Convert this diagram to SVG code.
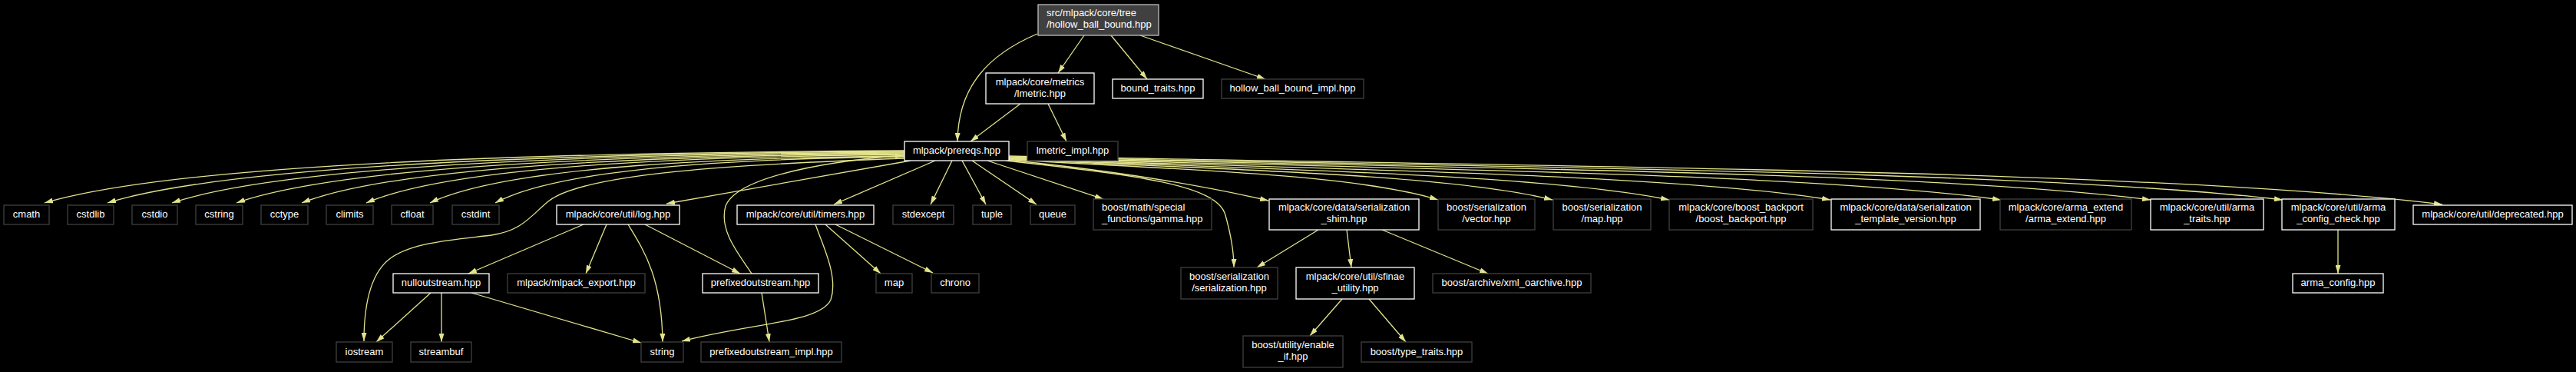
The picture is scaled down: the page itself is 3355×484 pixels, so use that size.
<svg xmlns="http://www.w3.org/2000/svg" width="3355" height="484" viewBox="0 0 3355 484">
<style>
text{font-family:"Liberation Sans",Arial,sans-serif;font-size:13px;fill:#ffffff;text-anchor:middle}
.l{text-anchor:start}
.d rect{fill:#000;stroke:#ffffff;stroke-width:1.3}
.u rect{fill:#000;stroke:#404040;stroke-width:1.3}
.r rect{fill:#404040;stroke:#bfbfbf;stroke-width:1.3}
#edges path{fill:none;stroke:#e3e38c;stroke-width:1.3;marker-end:url(#a)}
</style>
<defs>
<marker id="a" viewBox="0 0 11 7" refX="11" refY="3.5" markerWidth="11" markerHeight="7" markerUnits="userSpaceOnUse" orient="auto">
<path d="M0,0 L11,3.5 L0,7 z" fill="#e3e38c"/>
</marker>
</defs>
<rect x="0" y="0" width="3355" height="484" fill="#000"/>
<g id="edges">
<path d="M1351,44 C1290,70 1248,110 1247,184"/>
<path d="M1412,46 L1378,95"/>
<path d="M1447,46 L1494,103"/>
<path d="M1485,46 L1648,103"/>
<path d="M1329,135 L1264,184"/>
<path d="M1365,135 L1389,184"/>
<path d="M1178,196 C797,198 248,208 58,264"/>
<path d="M1178,197 C825,199 316,209 140,264"/>
<path d="M1178,198 C854,200 386,210 224,264"/>
<path d="M1178,199 C882,201 456,211 308,264"/>
<path d="M1178,200 C911,202 526,212 393,264"/>
<path d="M1178,201.5 C940,203 596,213 477,264"/>
<path d="M1178,203 C968,205 665,214 560,264"/>
<path d="M1178,204 C997,206 736,215 645,264"/>
<path d="M1186,209 L868,265"/>
<path d="M1218,209 L1086,266"/>
<path d="M1240,209 L1212,266"/>
<path d="M1253,209 L1284,266"/>
<path d="M1266,209 L1350,266"/>
<path d="M1286,209 L1437,259"/>
<path d="M1312,208 C1450,222 1560,240 1652,261"/>
<path d="M1310,209 C1480,228 1585,240 1596,280 C1603,305 1607,325 1607,348"/>
<path d="M1314,207.5 C1510,220 1761,225 1873,260"/>
<path d="M1314,207 C1562,220 1880,225 2022,260"/>
<path d="M1314,206.5 C1615,220 2002,225 2174,260"/>
<path d="M1314,206 C1688,220 2170,225 2384,260"/>
<path d="M1314,205.5 C1766,219 2348,224 2606,260"/>
<path d="M1314,205 C1834,218 2504,222 2801,260"/>
<path d="M1314,204 C1895,217 2641,221 2973,260"/>
<path d="M1314,203 C1967,216 2808,220 3181,266"/>
<path d="M1178,206 C960,214 760,225 714,262 C690,282 680,300 640,306 C590,312 540,315 510,335 C485,352 474,390 474,444"/>
<path d="M979,356 C962,330 936,300 945,268 C958,235 1050,212 1177,202"/>
<path d="M760,292 L610,356"/>
<path d="M790,292 L763,356"/>
<path d="M818,292 C838,325 862,360 863,445"/>
<path d="M840,292 L964,356"/>
<path d="M1062,292 C1072,320 1092,360 1082,390 C1068,420 980,420 888,444"/>
<path d="M1075,292 L1147,356"/>
<path d="M1088,292 L1215,355"/>
<path d="M561,381 L490,445"/>
<path d="M575,381 L575,445"/>
<path d="M614,381 L835,446"/>
<path d="M992,381 L1002,445"/>
<path d="M1717,299 L1637,348"/>
<path d="M1754,299 L1760,348"/>
<path d="M1800,299 L1938,356"/>
<path d="M1748,389 L1706,437"/>
<path d="M1783,389 L1831,445"/>
<path d="M3045,299 L3045,356"/>
</g>
<g id="n_root" class="r"><rect x="1352" y="6" width="157" height="40"/><text class="l" x="1363" y="21">src/mlpack/core/tree</text><text class="l" x="1363" y="36">/hollow_ball_bound.hpp</text></g>
<g id="n_lmetric" class="d"><rect x="1284" y="95" width="141" height="40"/><text x="1354.5" y="111">mlpack/core/metrics</text><text x="1354.5" y="126">/lmetric.hpp</text></g>
<g id="n_bound_traits" class="d"><rect x="1449" y="103" width="118" height="25"/><text x="1508" y="119">bound_traits.hpp</text></g>
<g id="n_hollow_impl" class="u"><rect x="1591" y="103" width="185" height="25"/><text x="1683.5" y="119">hollow_ball_bound_impl.hpp</text></g>
<g id="n_prereqs" class="d"><rect x="1178" y="184" width="136" height="25"/><text x="1246" y="200">mlpack/prereqs.hpp</text></g>
<g id="n_lmetric_impl" class="u"><rect x="1338" y="184" width="118" height="25"/><text x="1397" y="200">lmetric_impl.hpp</text></g>
<g id="n_cmath" class="u"><rect x="5" y="267" width="59" height="25"/><text x="34.5" y="283">cmath</text></g>
<g id="n_cstdlib" class="u"><rect x="88" y="267" width="60" height="25"/><text x="118" y="283">cstdlib</text></g>
<g id="n_cstdio" class="u"><rect x="172" y="267" width="59" height="25"/><text x="201.5" y="283">cstdio</text></g>
<g id="n_cstring" class="u"><rect x="255" y="267" width="61" height="25"/><text x="285.5" y="283">cstring</text></g>
<g id="n_cctype" class="u"><rect x="340" y="267" width="61" height="25"/><text x="370.5" y="283">cctype</text></g>
<g id="n_climits" class="u"><rect x="425" y="267" width="61" height="25"/><text x="455.5" y="283">climits</text></g>
<g id="n_cfloat" class="u"><rect x="510" y="267" width="54" height="25"/><text x="537" y="283">cfloat</text></g>
<g id="n_cstdint" class="u"><rect x="589" y="267" width="61" height="25"/><text x="619.5" y="283">cstdint</text></g>
<g id="n_log" class="d"><rect x="725" y="267" width="160" height="25"/><text x="805" y="283">mlpack/core/util/log.hpp</text></g>
<g id="n_timers" class="d"><rect x="960" y="267" width="178" height="25"/><text x="1049" y="283">mlpack/core/util/timers.hpp</text></g>
<g id="n_stdexcept" class="u"><rect x="1163" y="267" width="79" height="25"/><text x="1202.5" y="283">stdexcept</text></g>
<g id="n_tuple" class="u"><rect x="1267" y="267" width="50" height="25"/><text x="1292" y="283">tuple</text></g>
<g id="n_queue" class="u"><rect x="1342" y="267" width="58" height="25"/><text x="1371" y="283">queue</text></g>
<g id="n_gamma" class="u"><rect x="1424" y="259" width="154" height="40"/><text class="l" x="1435" y="274">boost/math/special</text><text class="l" x="1435" y="289">_functions/gamma.hpp</text></g>
<g id="n_shim" class="d"><rect x="1653" y="259" width="195" height="40"/><text x="1750.5" y="274">mlpack/core/data/serialization</text><text x="1750.5" y="289">_shim.hpp</text></g>
<g id="n_vector" class="u"><rect x="1873" y="259" width="126" height="40"/><text x="1936" y="274">boost/serialization</text><text x="1936" y="289">/vector.hpp</text></g>
<g id="n_smap" class="u"><rect x="2023" y="259" width="127" height="40"/><text x="2086.5" y="274">boost/serialization</text><text x="2086.5" y="289">/map.hpp</text></g>
<g id="n_backport" class="u"><rect x="2174" y="259" width="187" height="40"/><text x="2267.5" y="274">mlpack/core/boost_backport</text><text x="2267.5" y="289">/boost_backport.hpp</text></g>
<g id="n_template" class="d"><rect x="2385" y="259" width="194" height="40"/><text x="2482" y="274">mlpack/core/data/serialization</text><text x="2482" y="289">_template_version.hpp</text></g>
<g id="n_arma_extend" class="u"><rect x="2605" y="259" width="171" height="40"/><text x="2690.5" y="274">mlpack/core/arma_extend</text><text x="2690.5" y="289">/arma_extend.hpp</text></g>
<g id="n_arma_traits" class="d"><rect x="2801" y="259" width="147" height="40"/><text x="2874.5" y="274">mlpack/core/util/arma</text><text x="2874.5" y="289">_traits.hpp</text></g>
<g id="n_config_check" class="d"><rect x="2972" y="259" width="147" height="40"/><text x="3045.5" y="274">mlpack/core/util/arma</text><text x="3045.5" y="289">_config_check.hpp</text></g>
<g id="n_deprecated" class="d"><rect x="3143" y="267" width="207" height="25"/><text x="3246.5" y="283">mlpack/core/util/deprecated.hpp</text></g>
<g id="n_arma_config" class="d"><rect x="2986" y="356" width="118" height="25"/><text x="3045" y="372">arma_config.hpp</text></g>
<g id="n_nulloutstream" class="d"><rect x="512" y="356" width="125" height="25"/><text x="574.5" y="372">nulloutstream.hpp</text></g>
<g id="n_export" class="u"><rect x="661" y="356" width="179" height="25"/><text x="750.5" y="372">mlpack/mlpack_export.hpp</text></g>
<g id="n_prefixed" class="d"><rect x="915" y="356" width="151" height="25"/><text x="990.5" y="372">prefixedoutstream.hpp</text></g>
<g id="n_map" class="u"><rect x="1141" y="356" width="47" height="25"/><text x="1164.5" y="372">map</text></g>
<g id="n_chrono" class="u"><rect x="1213" y="356" width="62" height="25"/><text x="1244" y="372">chrono</text></g>
<g id="n_serialization" class="u"><rect x="1538" y="348" width="126" height="41"/><text x="1601" y="364">boost/serialization</text><text x="1601" y="379">/serialization.hpp</text></g>
<g id="n_sfinae" class="d"><rect x="1688" y="348" width="154" height="41"/><text x="1765" y="364">mlpack/core/util/sfinae</text><text x="1765" y="379">_utility.hpp</text></g>
<g id="n_xml" class="u"><rect x="1866" y="356" width="206" height="25"/><text x="1969" y="372">boost/archive/xml_oarchive.hpp</text></g>
<g id="n_enable_if" class="u"><rect x="1619" y="437" width="130" height="41"/><text x="1684" y="453">boost/utility/enable</text><text x="1684" y="468">_if.hpp</text></g>
<g id="n_type_traits" class="u"><rect x="1773" y="445" width="144" height="26"/><text x="1845" y="462">boost/type_traits.hpp</text></g>
<g id="n_iostream" class="u"><rect x="438" y="445" width="73" height="26"/><text x="474.5" y="462">iostream</text></g>
<g id="n_streambuf" class="u"><rect x="535" y="445" width="79" height="26"/><text x="574.5" y="462">streambuf</text></g>
<g id="n_string" class="u"><rect x="835" y="445" width="55" height="26"/><text x="862.5" y="462">string</text></g>
<g id="n_prefixed_impl" class="u"><rect x="913" y="445" width="183" height="26"/><text x="1004.5" y="462">prefixedoutstream_impl.hpp</text></g>
</svg>
